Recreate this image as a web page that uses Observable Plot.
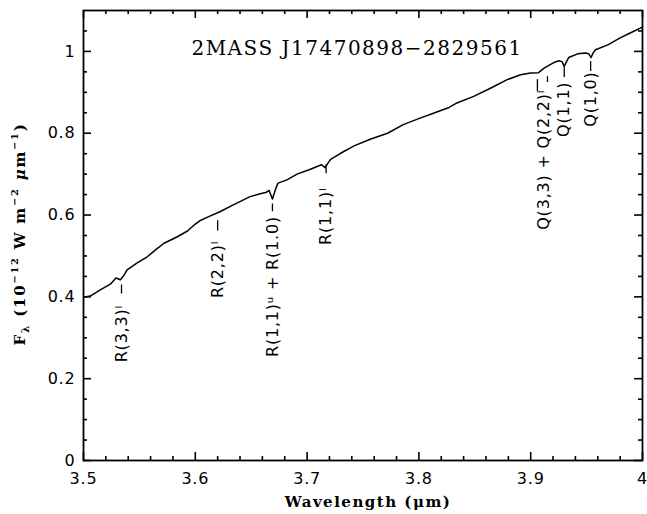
<!DOCTYPE html>
<html><head><meta charset="utf-8">
<script src="https://cdn.jsdelivr.net/npm/d3@7"></script>
<script src="https://cdn.jsdelivr.net/npm/@observablehq/plot@0.6"></script>
<style>body{margin:0;background:#fff}</style>
</head><body><div id="chart"></div>
<script>
// Spectrum
const wavelength = [3.500,3.506,3.515,3.524,3.529,3.533,3.536,3.539,3.548,3.557,3.565,3.572,3.584,3.593,3.600,3.604,3.612,3.622,3.634,3.649,3.658,3.663,3.666,3.669,3.672,3.674,3.682,3.691,3.703,3.710,3.713,3.716,3.719,3.721,3.730,3.742,3.757,3.772,3.786,3.801,3.813,3.819,3.827,3.834,3.849,3.864,3.879,3.891,3.900,3.907,3.912,3.921,3.925,3.928,3.930,3.932,3.934,3.942,3.949,3.952,3.954,3.956,3.958,3.969,3.980,3.989,3.998,4.000];
const flux = [0.399,0.402,0.417,0.431,0.446,0.442,0.452,0.466,0.483,0.498,0.516,0.531,0.547,0.561,0.578,0.586,0.596,0.608,0.625,0.645,0.652,0.655,0.660,0.639,0.665,0.678,0.686,0.700,0.712,0.720,0.723,0.716,0.728,0.736,0.751,0.769,0.786,0.800,0.821,0.837,0.849,0.855,0.863,0.874,0.890,0.910,0.931,0.943,0.947,0.948,0.959,0.973,0.977,0.975,0.963,0.975,0.985,0.994,0.996,0.994,0.985,0.997,1.004,1.016,1.033,1.045,1.057,1.060];

// Line identifications
const annLabel = ["R(3,3)ˡ","R(2,2)ˡ","R(1,1)ᵘ + R(1.0)","R(1,1)ˡ","Q(3,3) + Q(2,2)ˡ","Q(1,1)","Q(1,0)"];
const annX = [3.534,3.620,3.669,3.717,3.9116,3.930,3.9536];
const annY = [0.240,0.397,0.253,0.527,0.564,0.791,0.816];
const dashX  = [3.534,3.620,3.669,3.717,3.906,3.915,3.930,3.9536];
const dashY1 = [0.407,0.561,0.608,0.701,0.902,0.924,0.936,0.951];
const dashY2 = [0.429,0.586,0.627,0.723,0.931,0.938,0.960,0.975];

// Axes
const xDomain = [3.5, 4.0];
const yDomain = [0, 1.1];
const xTickValues = [3.5,3.6,3.7,3.8,3.9,4.0];
const xTickLabels = ["3.5","3.6","3.7","3.8","3.9","4"];
const xMinorTicks = [3.52,3.54,3.56,3.58,3.62,3.64,3.66,3.68,3.72,3.74,3.76,3.78,3.82,3.84,3.86,3.88,3.92,3.94,3.96,3.98];
const yTickValues = [0,0.2,0.4,0.6,0.8,1.0];
const yTickLabels = ["0","0.2","0.4","0.6","0.8","1"];
const yMinorTicks = [0.05,0.1,0.15,0.25,0.3,0.35,0.45,0.5,0.55,0.65,0.7,0.75,0.85,0.9,0.95,1.05];

const titleText = "2MASS J17470898−2829561";
const xLabelText = "Wavelength (μm)";
const yLabelText = "Fλ (10−12 W m−2 μm−1)";

const spectrum = wavelength.map((w, i) => ({w, f: flux[i]}));
const ann = annLabel.map((t, i) => ({t, x: annX[i], y: annY[i]}));
const dashes = dashX.map((x, i) => ({x, y1: dashY1[i], y2: dashY2[i]}));

const W = 647, H = 514, ML = 83, MR = 5, MT = 10, MB = 54;
const frameW = W - ML - MR, frameH = H - MT - MB;
// tick lengths in pixels converted to data units of each scale
const yPx = px => (yDomain[1] - yDomain[0]) * px / frameH;
const xPx = px => (xDomain[1] - xDomain[0]) * px / frameW;
const lookup = (vals, labs) => d => labs[vals.findIndex(v => Math.abs(v - d) < 1e-9)];

// inward ticks on all four sides
const xTickRows = (vals, len) => vals.flatMap(v => [
  {x: v, y1: yDomain[0], y2: yDomain[0] + yPx(len)},
  {x: v, y1: yDomain[1] - yPx(len), y2: yDomain[1]}
]);
const yTickRows = (vals, len) => vals.flatMap(v => [
  {y: v, x1: xDomain[0], x2: xDomain[0] + xPx(len)},
  {y: v, x1: xDomain[1] - xPx(len), x2: xDomain[1]}
]);
const xTickData = [...xTickRows(xTickValues, 8), ...xTickRows(xMinorTicks, 4)];
const yTickData = [...yTickRows(yTickValues, 8), ...yTickRows(yMinorTicks, 4)];

const chart = Plot.plot({
  width: W, height: H,
  marginLeft: ML, marginRight: MR, marginTop: MT, marginBottom: MB,
  style: {fontFamily: "DejaVu Sans", fontSize: "16px", color: "black", background: "white"},
  x: {domain: xDomain},
  y: {domain: yDomain},
  marks: [
    Plot.axisX({ticks: xTickValues, tickFormat: lookup(xTickValues, xTickLabels), tickSize: 0, tickPadding: 12, fontSize: 16, label: null}),
    Plot.axisY({ticks: yTickValues, tickFormat: lookup(yTickValues, yTickLabels), tickSize: 0, tickPadding: 8, fontSize: 16, label: null}),
    Plot.frame({stroke: "black", fill: "none", strokeWidth: 1.8}),
    Plot.line(spectrum, {x: "w", y: "f", stroke: "black", strokeWidth: 1.5, curve: "linear"}),
    Plot.ruleX(dashes, {x: "x", y1: "y1", y2: "y2", stroke: "black", strokeWidth: 1.3}),
    Plot.ruleX(xTickData, {x: "x", y1: "y1", y2: "y2", stroke: "black", strokeWidth: 1.6}),
    Plot.ruleY(yTickData, {y: "y", x1: "x1", x2: "x2", stroke: "black", strokeWidth: 1.6}),
    Plot.text(ann, {x: "x", y: "y", text: "t", rotate: -90, textAnchor: "start", lineAnchor: "middle", fontSize: 16, fill: "black"}),
    Plot.text([titleText], {text: d => d, frameAnchor: "top", dy: 30, dx: -6, fontFamily: "DejaVu Serif", fontSize: 20, fill: "black"}),
    Plot.text([xLabelText], {text: d => d, frameAnchor: "bottom", dy: 46, dx: 5, fontFamily: "DejaVu Serif", fontWeight: "bold", fontSize: 15, fill: "black"}),
    Plot.text([yLabelText], {text: d => d, frameAnchor: "left", dx: -63, dy: 110, rotate: -90, textAnchor: "start", fontFamily: "DejaVu Serif", fontWeight: "bold", fontSize: 15, fill: "black"})
  ]
});

const svg = d3.select(chart);
const byText = s => svg.selectAll("text").filter(function () { return this.textContent === s; });
svg.selectAll('g[aria-label="x-axis tick label"] text, g[aria-label="y-axis tick label"] text').attr("letter-spacing", "0.8px");
annLabel.forEach(s => byText(s).attr("letter-spacing", "0.8px"));
byText(titleText).attr("letter-spacing", "1.5px");
byText(xLabelText).attr("letter-spacing", "1.5px");
const yl = byText(yLabelText).attr("letter-spacing", "1.8px");
yl.text(null);
const parts = [["F",0,null],["λ",4,"70%"],[" (10",-4,null],["−12",-7,"65%"],[" W m",7,null],["−2",-7,"65%"],[" ",7,null],["μ",0,null,"italic"],["m",0,null],["−1",-7,"65%"],[")",7,null]];
for (const [s, dy, fs, st] of parts) {
  const t = yl.append("tspan").attr("dy", dy).text(s);
  if (fs) t.attr("font-size", fs);
  if (st) t.attr("font-style", st);
}
document.getElementById("chart").appendChild(chart);
</script>
</body></html>
